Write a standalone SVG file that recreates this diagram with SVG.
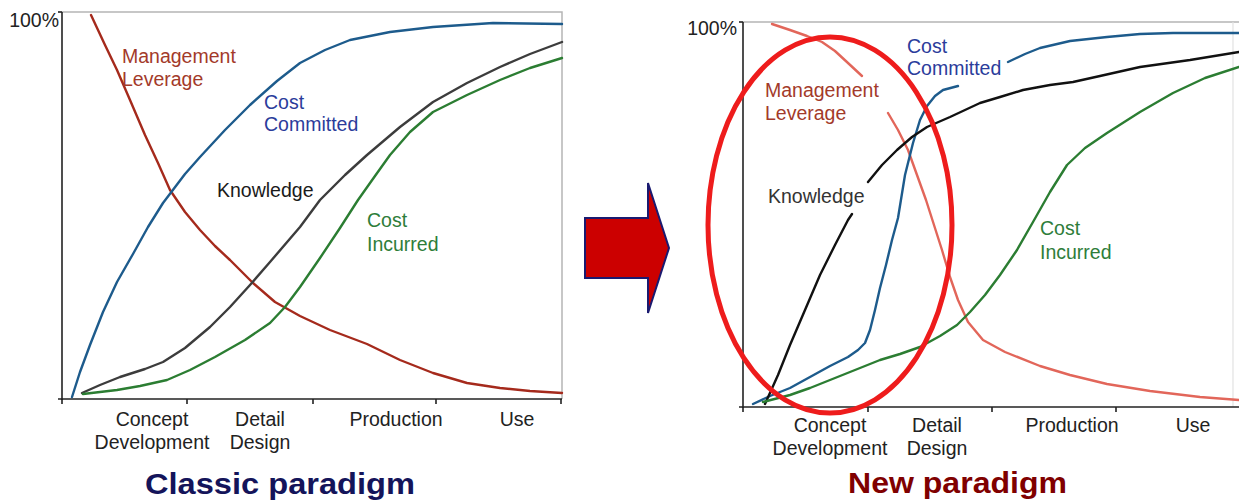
<svg xmlns="http://www.w3.org/2000/svg" width="1239" height="504" viewBox="0 0 1239 504">
<style>
text{font-family:"Liberation Sans",Arial,sans-serif;font-size:19.5px}
.ax{fill:#222}
.axis{stroke:#222;stroke-width:1.6;fill:none}
.frame{stroke:#b5b5b5;stroke-width:1.5;fill:none}
.c{fill:none;stroke-width:2.4;stroke-linejoin:round;stroke-linecap:round}
.ml{stroke:#a52a1c}
.ml2{stroke:#e2665a}
.cc{stroke:#1d5b8c}
.kn{stroke:#3c3c3c}
.kn2{stroke:#111}
.ci{stroke:#2b7d32}
.tml{fill:#a33a2a}
.tcc{fill:#2b3c9b}
.tkn{fill:#1a1a1a}
.tci{fill:#2e7d3a}
.title{font-weight:bold;font-size:29px}
</style>

<g id="classic-chart">
  <g id="classic-axes">
    <polyline class="frame" points="62,12 562,12 562,399"/>
    <line class="axis" x1="62" y1="12" x2="62" y2="400"/>
    <line class="axis" x1="58" y1="12" x2="62" y2="12"/>
    <line class="axis" x1="58" y1="399" x2="562" y2="399"/>
    <path class="axis" d="M62,399V404M187,399V404M313,399V404M436,399V404M561,399V404"/>
    <text class="ax" x="59" y="27" text-anchor="end" font-size="18">100%</text>
  </g>
  <g id="classic-curves">
    <polyline class="c ml" points="91,15 105,45 117,70 130,100 145,135 158,163 170,190 185,212 200,230 215,246 230,260 253,283 275,302 300,316 330,330 367,344 400,360 433,373 467,383 500,388 530,391 562,393"/>
    <polyline class="c cc" points="72,397 80,372 90,345 103,312 117,282 133,254 148,227 163,203 185,174 200,157 225,130 250,105 277,81 300,63 325,50 350,40 390,32 433,27 493,23 562,24"/>
    <polyline class="c kn" points="82,393 100,385 120,377 145,369 163,362 185,348 210,327 230,307 250,285 270,262 300,227 320,200 345,175 367,155 400,127 433,102 467,83 500,67 530,54 562,42"/>
    <polyline class="c ci" points="83,394 100,392 117,390 140,386 167,380 190,370 215,357 245,340 270,323 285,307 300,287 320,258 340,228 358,200 375,176 390,155 410,132 433,112 467,95 500,80 530,68 562,58"/>
  </g>
  <g id="classic-labels">
    <text class="tml" x="122" y="63">Management</text>
    <text class="tml" x="122" y="86">Leverage</text>
    <text class="tcc" x="264" y="109">Cost</text>
    <text class="tcc" x="264" y="131">Committed</text>
    <text class="tkn" x="217" y="197">Knowledge</text>
    <text class="tci" x="367" y="227">Cost</text>
    <text class="tci" x="367" y="251">Incurred</text>
    <text class="ax" x="152" y="426" text-anchor="middle">Concept</text>
    <text class="ax" x="152" y="449" text-anchor="middle">Development</text>
    <text class="ax" x="260" y="426" text-anchor="middle">Detail</text>
    <text class="ax" x="260" y="449" text-anchor="middle">Design</text>
    <text class="ax" x="396" y="426" text-anchor="middle">Production</text>
    <text class="ax" x="517" y="426" text-anchor="middle">Use</text>
    <text class="title" x="145" y="494" fill="#14145a" textLength="270" lengthAdjust="spacingAndGlyphs">Classic paradigm</text>
  </g>
</g>

<g id="transition-arrow">
  <polygon points="585,218 648,218 648,183 669,248 648,313 648,278 585,278" fill="#cc0000" stroke="#1a1a70" stroke-width="2" stroke-linejoin="miter"/>
</g>

<g id="new-chart">
  <g id="new-axes">
    <line class="frame" x1="743" y1="22" x2="1239" y2="22"/>
    <line x1="1233" y1="22" x2="1233" y2="407" stroke="#e2e2e2" stroke-width="1.2"/>
    <line class="axis" x1="743" y1="22" x2="743" y2="408"/>
    <line class="axis" x1="739" y1="22" x2="743" y2="22"/>
    <line class="axis" x1="739" y1="407" x2="1239" y2="407"/>
    <path class="axis" d="M743,407V412M868,407V412M992,407V412M1116,407V412"/>
    <text class="ax" x="737" y="35" text-anchor="end" font-size="18">100%</text>
  </g>
  <g id="new-curves">
    <polyline class="c ml2" points="772,24 790,30 807,36 822,42 835,51 848,63 862,76"/>
    <polyline class="c ml2" points="888,113 898,130 908,150 917,175 926,200 934,225 942,250 950,277 958,300 968,322 983,340 1005,352 1040,366 1070,375 1107,384 1150,391 1200,397 1239,400"/>
    <polyline class="c cc" points="753,404 770,396 790,388 810,377 830,366 848,357 858,350 865,343 870,330 875,310 880,288 886,265 892,240 898,218 905,175 913,143 920,120 927,106 935,96 943,90 958,86"/>
    <polyline class="c cc" points="1008,62 1025,54 1040,48 1070,41 1107,37 1140,34 1173,33 1210,33 1239,33"/>
    <polyline class="c kn2" points="765,404 778,375 790,345 805,310 820,275 835,245 848,220 852,214"/>
    <polyline class="c kn2" points="868,182 882,165 897,150 912,137 927,127 950,117 980,103 1000,97 1023,90 1050,85 1073,82 1100,76 1140,67 1190,60 1239,52"/>
    <polyline class="c ci" points="763,402 790,395 810,388 830,380 855,370 880,360 900,354 920,347 940,336 957,325 970,312 985,295 1000,275 1017,250 1033,222 1050,192 1067,165 1085,148 1107,133 1140,112 1173,93 1205,78 1239,67"/>
  </g>
  <g id="new-labels">
    <text class="tml" x="765" y="97">Management</text>
    <text class="tml" x="765" y="120">Leverage</text>
    <text class="tcc" x="907" y="53">Cost</text>
    <text class="tcc" x="907" y="75">Committed</text>
    <text x="768" y="203" fill="#333">Knowledge</text>
    <text class="tci" x="1040" y="235">Cost</text>
    <text class="tci" x="1040" y="259">Incurred</text>
    <text class="ax" x="830" y="432" text-anchor="middle">Concept</text>
    <text class="ax" x="830" y="455" text-anchor="middle">Development</text>
    <text class="ax" x="937" y="432" text-anchor="middle">Detail</text>
    <text class="ax" x="937" y="455" text-anchor="middle">Design</text>
    <text class="ax" x="1072" y="432" text-anchor="middle">Production</text>
    <text class="ax" x="1193" y="432" text-anchor="middle">Use</text>
    <text class="title" x="848" y="493" fill="#800000" textLength="219" lengthAdjust="spacingAndGlyphs">New paradigm</text>
  </g>
  <g id="focus-ellipse">
    <ellipse cx="830" cy="225" rx="122" ry="188" fill="none" stroke="#ee1c1c" stroke-width="5"/>
  </g>
</g>
</svg>
